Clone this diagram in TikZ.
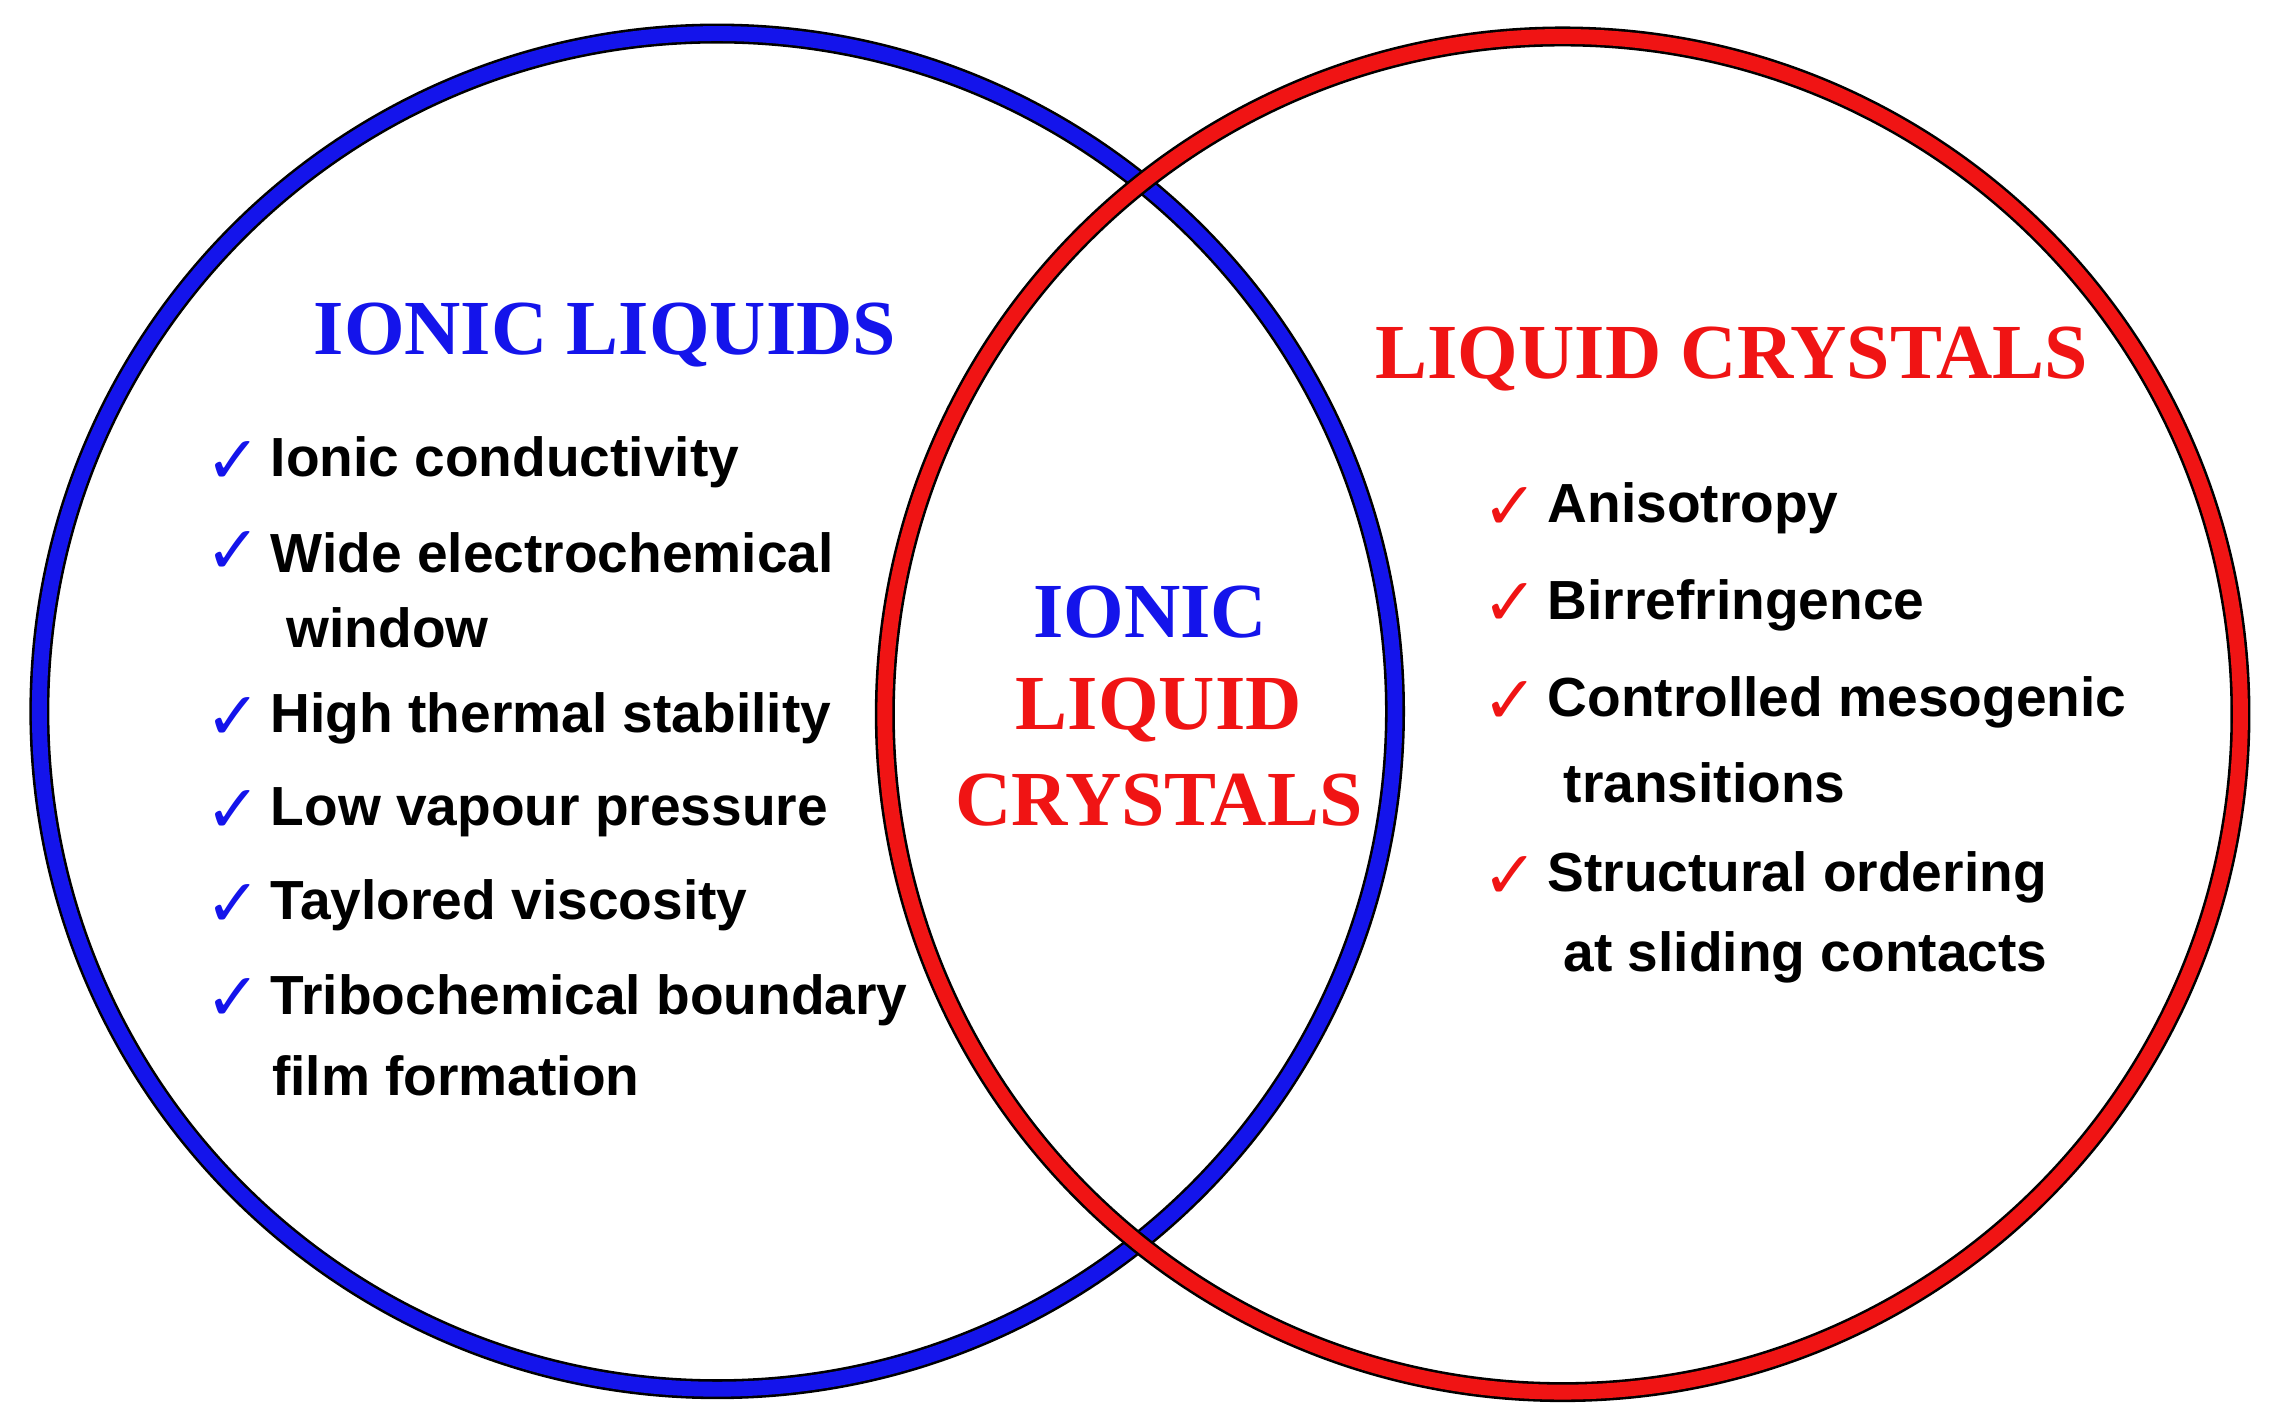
\documentclass[tikz,border=0pt]{standalone}
\usepackage{fontspec}
\setmainfont{Liberation Serif}
\newfontfamily\itemfont{Liberation Sans}
\newfontfamily\chkfont{DejaVu Sans}
\definecolor{myblue}{RGB}{20,20,235}
\definecolor{myred}{RGB}{240,20,20}
\begin{document}
\begin{tikzpicture}[x=0.01cm,y=-0.01cm,
  itm/.style={anchor=west,font=\itemfont\bfseries\fontsize{10.75}{13}\selectfont,inner sep=0},
  chk/.style={anchor=west,font=\chkfont\fontsize{13}{13}\selectfont,inner sep=0},
  ttl/.style={font=\bfseries\fontsize{15.2}{18}\selectfont,inner sep=0}]
\useasboundingbox (0,0) rectangle (1560,975);
\fill[white] (0,0) rectangle (1560,975);
\coordinate (cb) at (492,488);
\coordinate (cr) at (1072,490);
\draw[black,line width=3.9pt] (cb) circle (465);
\draw[myblue,line width=2.9pt] (cb) circle (465);
\draw[black,line width=3.9pt] (cr) circle (465);
\draw[myred,line width=2.9pt] (cr) circle (465);
\node[ttl,text=myblue] (tl) at (415,230) {IONIC LIQUIDS};
\node[ttl,text=myred] (tr) at (1188,246) {LIQUID CRYSTALS};
\node[ttl,text=myblue] (c1) at (789,420) {IONIC};
\node[ttl,text=myred] (c2) at (795,487) {LIQUID};
\node[ttl,text=myred] (c3) at (795,549) {CRYSTALS};
\foreach \y/\t [count=\i] in {317/Ionic conductivity,379/Wide electrochemical,493/High thermal stability,557/Low vapour pressure,621/Taylored viscosity,686/Tribochemical boundary}{
  \node[chk,text=myblue] (lc\i) at (140,\y) {✓};
  \node[itm] (li\i) at (185,\y) {\t};}
\node[itm] (lw) at (196,431) {window};
\node[itm] (lf) at (186,738) {film formation};
\foreach \y/\t [count=\i] in {349/Anisotropy,415/Birrefringence,482/Controlled mesogenic,602/Structural ordering}{
  \node[chk,text=myred] (rc\i) at (1016,\y) {✓};
  \node[itm] (ri\i) at (1061,\y) {\t};}
\node[itm] (rt) at (1072,537) {transitions};
\node[itm] (rs) at (1072,657) {at sliding contacts};
\end{tikzpicture}
\end{document}
